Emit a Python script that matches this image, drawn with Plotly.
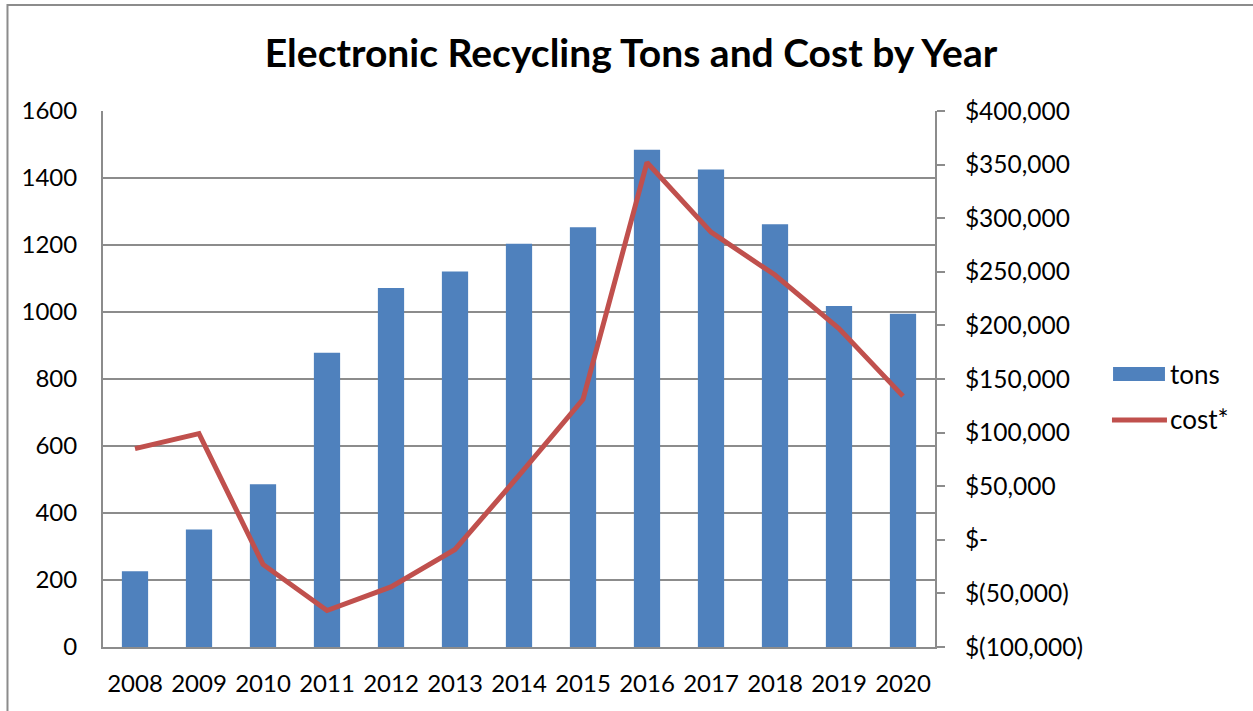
import plotly.graph_objects as go

years = ["2008", "2009", "2010", "2011", "2012", "2013", "2014",
         "2015", "2016", "2017", "2018", "2019", "2020"]
tons = [226, 351, 486, 878, 1072, 1121, 1204, 1253, 1484, 1425, 1262, 1018, 995]
cost = [85000, 99000, -23000, -66000, -44000, -9000, 60000,
        131000, 352000, 287000, 247000, 197000, 134000]

left_ticks = [0, 200, 400, 600, 800, 1000, 1200, 1400, 1600]
right_ticks = [-100000, -50000, 0, 50000, 100000, 150000, 200000,
               250000, 300000, 350000, 400000]
right_labels = ["$(100,000)", "$(50,000)", "$-", "$50,000", "$100,000", "$150,000",
                "$200,000", "$250,000", "$300,000", "$350,000", "$400,000"]

FONT = "Lato, 'Open Sans', sans-serif"
GRID = "#8c8c8c"
BAR_C = "#4F81BD"
LINE_C = "#C0504D"

fig = go.Figure()
fig.add_trace(go.Bar(x=years, y=tons, name="tons", marker_color=BAR_C,
                     marker_line_width=0, yaxis="y", showlegend=False))
fig.add_trace(go.Scatter(x=years, y=cost, name="cost*", mode="lines",
                         line=dict(color=LINE_C, width=5), yaxis="y2",
                         showlegend=False))

fig.update_layout(
    width=1253, height=711,
    margin=dict(l=103, r=318, t=111, b=64),
    paper_bgcolor="white", plot_bgcolor="white",
    font=dict(family=FONT, size=24, color="black"),
    title=dict(text="<b>Electronic Recycling Tons and Cost by Year</b>",
               x=0.5036, xanchor="center", y=0.9255, yanchor="middle",
               font=dict(family=FONT, size=39, color="black")),
    bargap=0.59,
    xaxis=dict(type="category", showgrid=False, showline=True, linecolor=GRID,
               linewidth=2, ticks="", tickfont=dict(size=24), ticklabelstandoff=14),
    yaxis=dict(range=[0, 1600], tickvals=left_ticks, showgrid=True,
               gridcolor=GRID, gridwidth=1.5, showline=True, linecolor=GRID,
               linewidth=2, zeroline=False, ticks="", tickfont=dict(size=24),
               ticklabelstandoff=19),
    yaxis2=dict(range=[-100000, 400000], tickvals=right_ticks, ticktext=right_labels,
                overlaying="y", side="right", showgrid=False, showline=True,
                linecolor=GRID, linewidth=2, zeroline=False, ticks="outside",
                ticklen=8, tickcolor=GRID, tickwidth=1.5, tickfont=dict(size=24.5),
                ticklabelstandoff=15),
    shapes=[
        dict(type="rect", xref="paper", yref="paper", x0=-0.1148, x1=1.6,
             y0=-0.2, y1=1.1978, line=dict(color=GRID, width=2),
             fillcolor="rgba(0,0,0,0)", layer="below"),
        # legend swatches
        dict(type="rect", xref="paper", yref="paper", x0=1.214, x1=1.2764,
             y0=0.4963, y1=0.5224, line=dict(width=0), fillcolor=BAR_C),
        dict(type="line", xref="paper", yref="paper", x0=1.2127, x1=1.2788,
             y0=0.4235, y1=0.4235, line=dict(color=LINE_C, width=5)),
    ],
    annotations=[
        dict(text="tons", xref="paper", yref="paper", x=1.280, y=0.5093,
             xanchor="left", yanchor="middle", showarrow=False,
             font=dict(size=26, family=FONT, color="black")),
        dict(text="cost*", xref="paper", yref="paper", x=1.280, y=0.4254,
             xanchor="left", yanchor="middle", showarrow=False,
             font=dict(size=26, family=FONT, color="black")),
    ],
)

fig.write_html("out.html", config={"displayModeBar": False},
               post_script="document.body.style.margin='0';")
